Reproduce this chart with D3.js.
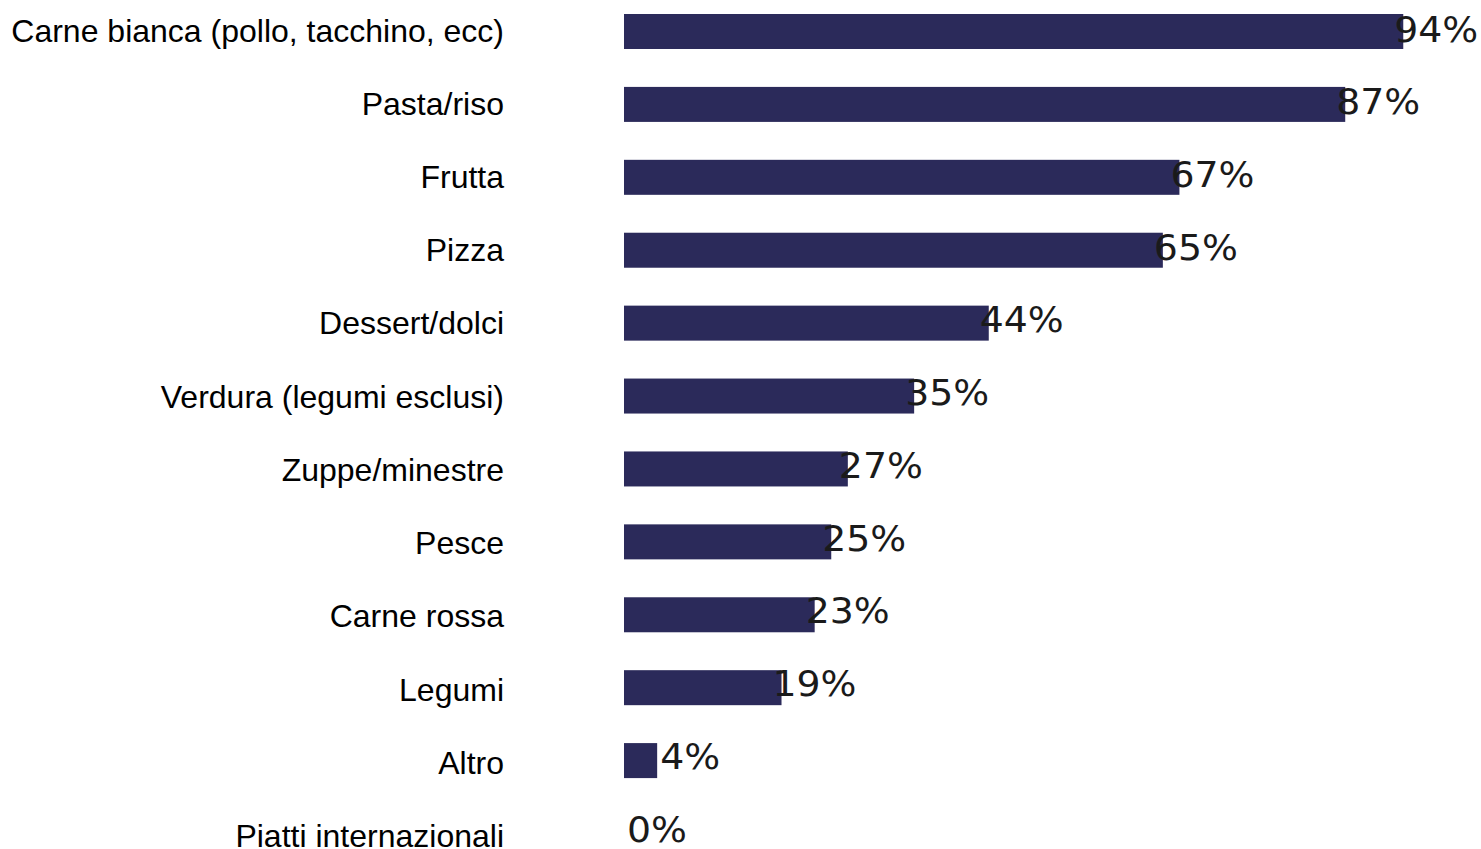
<!DOCTYPE html>
<html>
<head>
<meta charset="utf-8">
<script src="https://cdn.jsdelivr.net/npm/d3@7/dist/d3.min.js"></script>
<style>
  html, body { margin: 0; padding: 0; background: #fff; }
  svg { display: block; }
  .cat { font-family: "Liberation Sans", Arial, sans-serif; font-size: 32px; fill: #000; }
  .val { font-family: "DejaVu Sans", sans-serif; font-size: 35px; fill: #1a1a1a; }
</style>
</head>
<body>
<script>
var categories = [
  "Carne bianca (pollo, tacchino, ecc)",
  "Pasta/riso",
  "Frutta",
  "Pizza",
  "Dessert/dolci",
  "Verdura (legumi esclusi)",
  "Zuppe/minestre",
  "Pesce",
  "Carne rossa",
  "Legumi",
  "Altro",
  "Piatti internazionali"
];
var values = [94, 87, 67, 65, 44, 35, 27, 25, 23, 19, 4, 0];

var WIDTH = 1481;
var HEIGHT = 849;
var BAR_COLOR = "#2b2a5a";
var LABEL_OFFSET = 33; // value label centre sits this far right of the bar end

var svg = d3.select("body")
  .append("svg")
  .attr("width", WIDTH)
  .attr("height", HEIGHT);

var x = d3.scaleLinear().domain([0, 100]).range([624, 1453]);

var y = d3.scaleBand()
  .domain(categories)
  .range([14, 851])
  .paddingInner(0.52)
  .paddingOuter(0);

// text baselines; the category labels run slightly looser than the bars
// (the last one is clipped by the bottom edge, as in the original)
var yCat = d3.scalePoint().domain(categories).range([41.5, 847]);
var yVal = d3.scalePoint().domain(categories).range([41.5, 841.5]);

var rows = categories.map((c, i) => ({ cat: c, v: values[i] }));

svg.selectAll("rect.bar")
  .data(rows.filter(d => d.v > 0))
  .enter()
  .append("rect")
  .classed("bar", true)
  .attr("x", x(0))
  .attr("y", d => y(d.cat))
  .attr("width", d => x(d.v) - x(0))
  .attr("height", y.bandwidth())
  .attr("fill", BAR_COLOR);

svg.selectAll("text.cat")
  .data(rows)
  .enter()
  .append("text")
  .classed("cat", true)
  .attr("x", 504)
  .attr("y", d => yCat(d.cat))
  .attr("text-anchor", "end")
  .text(d => d.cat);

svg.selectAll("text.val")
  .data(rows)
  .enter()
  .append("text")
  .classed("val", true)
  .attr("text-anchor", "middle")
  .attr("transform", d => "translate(" + (x(d.v) + LABEL_OFFSET) + "," + yVal(d.cat) + ") scale(1.08,1)")
  .text(d => d.v + "%");
</script>
</body>
</html>
